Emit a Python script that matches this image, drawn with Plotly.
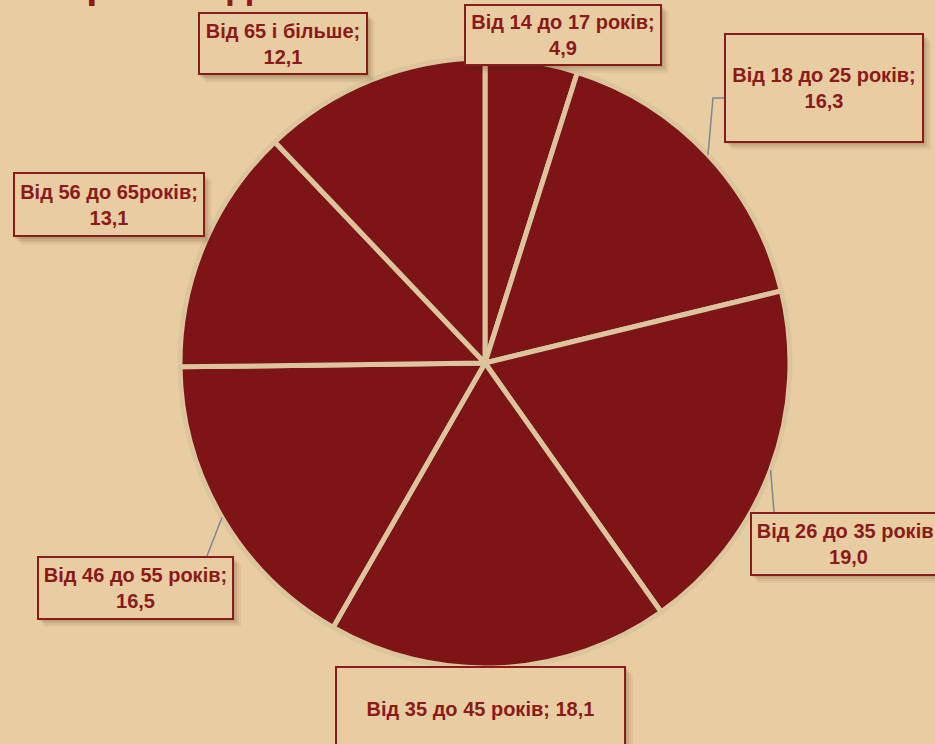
import math
import plotly.graph_objects as go

# дані діаграми
age_groups = ["Від 14 до 17 років", "Від 18 до 25 років", "Від 26 до 35 років",
              "Від 35 до 45 років", "Від 46 до 55 років", "Від 56 до 65років",
              "Від 65 і більше"]
shares = [4.9, 16.3, 19.0, 18.1, 16.5, 13.1, 12.1]
share_labels = ["4,9", "16,3", "19,0", "18,1", "16,5", "13,1", "12,1"]

W, H = 935, 744
BG = "#E8CDA2"
SLICE = "#7D1416"
DARK = "#8B1A1A"

# геометрія кола (px)
CX, CY, R = 485, 363, 305


def px(x):
    return x / W


def py(y):
    return 1 - y / H


# -------------------------------------------------------------
# Розташування підписів: центр, розмір, одна чи дві лінії
# -------------------------------------------------------------
boxes = [
    dict(c=(562.5, 34.5), s=(197, 61), one_line=False),
    dict(c=(823.5, 87.5), s=(199, 109), one_line=False),
    dict(c=(848, 543.5), s=(196, 63), one_line=False),
    dict(c=(480, 708), s=(290, 84), one_line=True),
    dict(c=(135, 587.5), s=(196, 63), one_line=False),
    dict(c=(108.5, 205), s=(191, 64), one_line=False),
    dict(c=(282.5, 44), s=(169, 62), one_line=False),
]

# виноски: (індекс сектора, точки ламаної після краю сектора)
leaders = {
    1: [(713, 98), (724, 98)],
    2: [(774, 512)],
    4: [(207, 556)],
}

fig = go.Figure()

fig.add_trace(go.Pie(
    labels=age_groups,
    values=shares,
    sort=False,
    direction="clockwise",
    rotation=0,
    textinfo="none",
    hoverinfo="label+value",
    marker=dict(colors=[SLICE] * len(shares), line=dict(color="#DCC59C", width=5)),
    domain=dict(x=[px(CX - R), px(CX + R)], y=[py(CY + R), py(CY - R)]),
    showlegend=False,
))

shapes = []
annotations = []

# лінії-виноски від середини дуги сектора
total = sum(shares)
acc = 0
for i, v in enumerate(shares):
    mid = (acc + v / 2) / total * 2 * math.pi
    acc += v
    if i not in leaders:
        continue
    pts = [(CX + R * math.sin(mid), CY - R * math.cos(mid))] + leaders[i]
    path = "M " + " L ".join(f"{px(x):.5f},{py(y):.5f}" for x, y in pts)
    shapes.append(dict(type="path", path=path, xref="paper", yref="paper",
                       line=dict(color="#7F8794", width=1.5), layer="above"))

# рамки з тінню
for i, b in enumerate(boxes):
    (cx, cy), (bw, bh) = b["c"], b["s"]
    for d, op in [(8, 0.05), (6, 0.07), (4, 0.09), (2, 0.1)]:
        shapes.append(dict(type="rect", xref="paper", yref="paper",
                           x0=px(cx - bw / 2 + d), x1=px(cx + bw / 2 + d),
                           y0=py(cy + bh / 2 + d), y1=py(cy - bh / 2 + d),
                           fillcolor="rgba(70,40,15,%s)" % op, line_width=0,
                           layer="above"))
    sep = " " if b["one_line"] else "<br>"
    annotations.append(dict(
        x=px(cx), y=py(cy), xref="paper", yref="paper",
        xanchor="center", yanchor="middle",
        text=f"{age_groups[i]};{sep}{share_labels[i]}",
        showarrow=False,
        font=dict(family="Liberation Sans, Arial", size=20, color=DARK, weight="bold"),
        bgcolor=BG, bordercolor=DARK, borderwidth=2, borderpad=0,
        width=bw - 3, height=bh - 3, align="center", valign="middle",
    ))

# заголовок, що виходить за верхній край
annotations.append(dict(
    x=0, y=1, xref="paper", yref="paper", xanchor="left", yanchor="bottom",
    xshift=13, yshift=-8, text="Вік респондентів", showarrow=False,
    font=dict(family="Liberation Sans, Arial", size=40, color=DARK, weight="bold"),
))

fig.update_layout(
    width=W, height=H,
    margin=dict(l=0, r=0, t=0, b=0),
    paper_bgcolor=BG, plot_bgcolor=BG,
    shapes=shapes, annotations=annotations,
)

fig.write_html("out.html", config={"displayModeBar": False},
               post_script="document.body.style.margin='0px';")
